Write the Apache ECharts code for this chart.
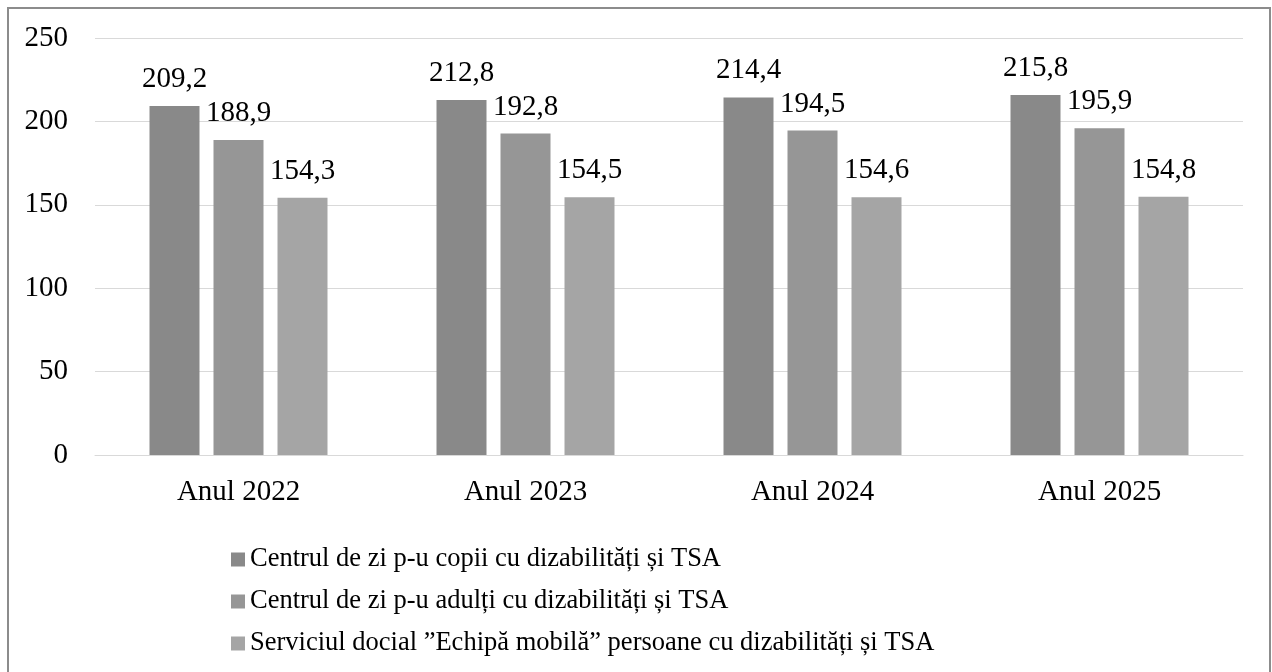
<!DOCTYPE html>
<html>
<head>
<meta charset="utf-8">
<script src="https://cdn.jsdelivr.net/npm/echarts@6/dist/echarts.min.js"></script>
<style>html,body{margin:0;padding:0;background:#fff}#c{width:1272px;height:672px}</style>
</head>
<body>
<div id="c"></div>
<script>
var categories = ['Anul 2022', 'Anul 2023', 'Anul 2024', 'Anul 2025'];
var seriesNames = [
  'Centrul de zi p-u copii cu dizabilități și TSA',
  'Centrul de zi p-u adulți cu dizabilități și TSA',
  'Serviciul docial \u201DEchipă mobilă\u201D persoane cu dizabilități și TSA'
];
var copii = [209.2, 212.8, 214.4, 215.8];
var adulti = [188.9, 192.8, 194.5, 195.9];
var mobila = [154.3, 154.5, 154.6, 154.8];
var yTicks = [0, 50, 100, 150, 200, 250];
var colors = ['#898989', '#969696', '#a5a5a5'];

var FONT = '"Liberation Serif", "Times New Roman", serif';
var chart = echarts.init(document.getElementById('c'));
function mk(name, data, color) {
  return {
    name: name, type: 'bar', data: data, barWidth: 50, barGap: '28%',
    itemStyle: { color: color },
    label: {
      show: true, position: 'top', distance: 12,
      fontFamily: FONT, fontSize: 29, color: '#000',
      formatter: function (p) { return String(p.value).replace('.', ','); }
    }
  };
}
chart.setOption({
  animation: false,
  color: colors,
  graphic: [{
    type: 'rect', shape: { x: 8, y: 8, width: 1262, height: 670 },
    style: { fill: 'none', stroke: '#8c8c8c', lineWidth: 2 }, silent: true
  }],
  grid: { left: 95, right: 29, top: 38, bottom: 217, containLabel: false },
  legend: {
    orient: 'vertical', left: 226, top: 541,
    itemWidth: 14, itemHeight: 14, itemGap: 15,
    icon: 'rect',
    textStyle: { fontFamily: FONT, fontSize: 26.5, color: '#000', padding: [0, 0, 0, 0] },
    data: seriesNames
  },
  xAxis: {
    type: 'category', data: categories,
    axisLine: { lineStyle: { color: '#d9d9d9', width: 1 } },
    axisTick: { show: false },
    axisLabel: { fontFamily: FONT, fontSize: 29, color: '#000', margin: 23 }
  },
  yAxis: {
    type: 'value', min: 0, max: 250, interval: 50,
    axisLine: { show: false }, axisTick: { show: false },
    splitLine: { lineStyle: { color: '#d9d9d9', width: 1 } },
    axisLabel: {
      fontFamily: FONT, fontSize: 29, color: '#000', margin: 27,
      formatter: function (v) { return yTicks.indexOf(v) >= 0 ? String(v) : ''; }
    }
  },
  series: [
    mk(seriesNames[0], copii, colors[0]),
    mk(seriesNames[1], adulti, colors[1]),
    mk(seriesNames[2], mobila, colors[2])
  ]
});
</script>
</body>
</html>
